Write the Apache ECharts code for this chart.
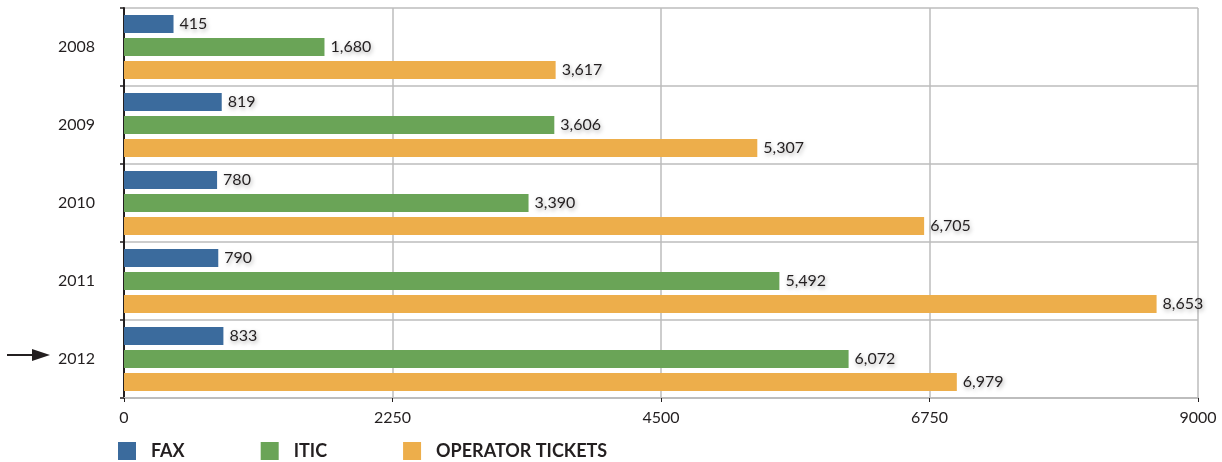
<!DOCTYPE html>
<html>
<head>
<meta charset="utf-8">
<script src="https://cdn.jsdelivr.net/npm/echarts@6/dist/echarts.min.js"></script>
<style>
  html, body { margin: 0; padding: 0; background: #fff; }
  #chart { width: 1222px; height: 462px; }
</style>
</head>
<body>
<div id="chart"></div>
<script>
  /******************/
  //region    //data
  let years = ['2008', '2009', '2010', '2011', '2012'];
  let fax = [415, 819, 780, 790, 833];
  let itic = [1680, 3606, 3390, 5492, 6072];
  let operatorTickets = [3617, 5307, 6705, 8653, 6979];
  let xTicks = [0, 2250, 4500, 6750, 9000];
  //endregion

  /******************/
  //region    //chart
  let chart = echarts.init(document.getElementById('chart'));
  let font = 'Lato, "DejaVu Sans", sans-serif';
  let labelStyle = {
    show: true,
    position: 'right',
    distance: 6,
    color: '#231f20',
    fontSize: 16,
    fontFamily: font,
    textShadowColor: 'rgba(0,0,0,0.35)',
    textShadowBlur: 4,
    textShadowOffsetX: 1,
    textShadowOffsetY: 2,
    formatter: (p) => p.value.toLocaleString('en-US'),
  };

  function makeSeries(name, data, color) {
    return {
      name: name,
      type: 'bar',
      data: data,
      barWidth: 18,
      barGap: '28%',
      itemStyle: { color: color },
      label: labelStyle,
    };
  }

  let option = {
    animation: false,
    textStyle: { fontFamily: font },
    grid: { left: 124, right: 24, top: 8, bottom: 64 },
    legend: {
      left: 113,
      top: 437,
      itemWidth: 18,
      itemHeight: 18,
      itemGap: 76,
      icon: 'rect',
      textStyle: { fontSize: 18, fontWeight: 'bold', color: '#231f20', padding: [0, 0, 0, 10] },
      data: ['FAX', 'ITIC', 'OPERATOR TICKETS'],
    },
    xAxis: {
      type: 'value',
      min: xTicks[0],
      max: xTicks[xTicks.length - 1],
      interval: xTicks[1] - xTicks[0],
      axisLine: { show: true, lineStyle: { color: '#bdbdbd', width: 2 } },
      axisTick: { show: true, length: 4, lineStyle: { color: '#231f20' } },
      axisLabel: { color: '#231f20', fontSize: 16, margin: 12, formatter: (v) => String(v) },
      splitLine: { lineStyle: { color: '#bdbdbd', width: 1.5 } },
    },
    yAxis: {
      type: 'category',
      inverse: true,
      data: years,
      axisLine: { lineStyle: { color: '#231f20', width: 2 } },
      axisTick: { show: true, length: 4, lineStyle: { color: '#231f20', width: 1.5 } },
      axisLabel: { color: '#231f20', fontSize: 16, margin: 29 },
      splitLine: { show: true, lineStyle: { color: '#bdbdbd', width: 1.5 } },
    },
    series: [
      makeSeries('FAX', fax, '#3b6b9d'),
      makeSeries('ITIC', itic, '#6aa457'),
      makeSeries('OPERATOR TICKETS', operatorTickets, '#edae4b'),
    ],
    graphic: [
      {
        type: 'line',
        shape: { x1: 7, y1: 355, x2: 40, y2: 355 },
        style: { stroke: '#231f20', lineWidth: 2 },
      },
      {
        type: 'polygon',
        shape: { points: [[32, 349], [50, 355], [32, 361]] },
        style: { fill: '#231f20' },
      },
    ],
  };

  chart.setOption(option);
  //endregion
</script>
</body>
</html>
